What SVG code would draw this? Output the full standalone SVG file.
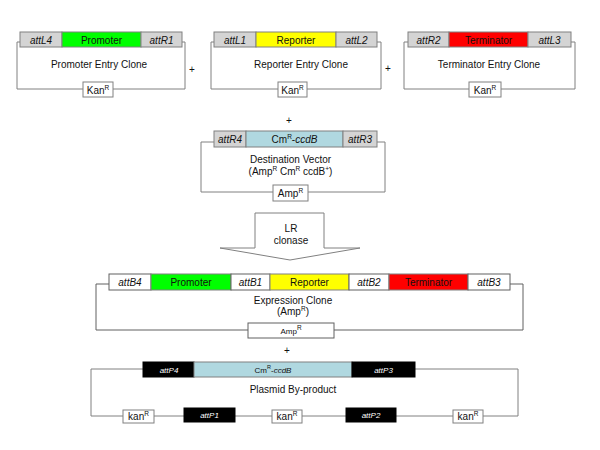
<svg xmlns="http://www.w3.org/2000/svg" width="600" height="450" viewBox="0 0 600 450">
<style>
text{font-family:"Liberation Sans",Arial,sans-serif;font-size:10px;fill:#111;text-anchor:middle}
.i{font-style:italic}
.s{font-size:8px}
.sup{font-size:6.5px}
.w{fill:#fff}
.ln{fill:none;stroke:#808080;stroke-width:1}
.ln2{fill:none;stroke:#606060;stroke-width:1}
.g{fill:#d4d4d4;stroke:#808080;stroke-width:1}
.gr{fill:#00ff00;stroke:#808080;stroke-width:1}
.ye{fill:#ffff00;stroke:#808080;stroke-width:1}
.rd{fill:#ff0000;stroke:#808080;stroke-width:1}
.bl{fill:#b0d8e0;stroke:#808080;stroke-width:1}
.wb{fill:#fff;stroke:#808080;stroke-width:1}
.wb2{fill:#fff;stroke:#606060;stroke-width:1}
.bk{fill:#000;stroke:#000;stroke-width:1}
</style>

<g id="connectors">
  <path class="ln" d="M20,42 H17 V89 H83 M113,89 H185 V42 H182"/>
  <path class="ln" d="M214,42 H211 V89 H278 M307,89 H381 V42 H377"/>
  <path class="ln" d="M408,42 H404 V89 H469 M501,89 H575 V42 H571"/>
  <path class="ln" d="M214,142 H201 V192 H273 M308,192 H385 V142 H377"/>
  <path class="ln2" d="M109,284 H96 V330 H248 M334,330 H523 V284 H510"/>
  <path class="ln" d="M143,369 H91 V416 H123 M154,416 H184 M235,416 H272 M302,416 H346 M396,416 H453 M483,416 H518 V369 H415"/>
</g>

<g id="promoter-entry-clone">
  <rect class="g" x="20" y="32" width="42" height="15"/>
  <rect class="gr" x="62" y="32" width="79" height="15"/>
  <rect class="g" x="141" y="32" width="41" height="15"/>
  <text class="i" x="41" y="43.5">attL4</text>
  <text x="101.5" y="43.5">Promoter</text>
  <text class="i" x="161.5" y="43.5">attR1</text>
  <text x="99" y="68">Promoter Entry Clone</text>
  <rect class="wb" x="83" y="82" width="30" height="15"/>
  <text x="98" y="93.5">Kan<tspan class="sup" dy="-4">R</tspan></text>
</g>
<text id="plus1" x="192" y="73">+</text>

<g id="reporter-entry-clone">
  <rect class="g" x="214" y="32" width="42" height="15"/>
  <rect class="ye" x="256" y="32" width="80" height="15"/>
  <rect class="g" x="336" y="32" width="41" height="15"/>
  <text class="i" x="235" y="43.5">attL1</text>
  <text x="296" y="43.5">Reporter</text>
  <text class="i" x="356.5" y="43.5">attL2</text>
  <text x="301" y="68">Reporter Entry Clone</text>
  <rect class="wb" x="278" y="82" width="29" height="15"/>
  <text x="292.5" y="93.5">Kan<tspan class="sup" dy="-4">R</tspan></text>
</g>
<text id="plus2" x="388" y="72">+</text>

<g id="terminator-entry-clone">
  <rect class="g" x="408" y="32" width="41" height="15"/>
  <rect class="rd" x="449" y="32" width="79" height="15"/>
  <rect class="g" x="528" y="32" width="43" height="15"/>
  <text class="i" x="428.5" y="43.5">attR2</text>
  <text x="488.5" y="43.5">Terminator</text>
  <text class="i" x="549.5" y="43.5">attL3</text>
  <text x="489" y="68">Terminator Entry Clone</text>
  <rect class="wb" x="469" y="82" width="32" height="15"/>
  <text x="485" y="93.5">Kan<tspan class="sup" dy="-4">R</tspan></text>
</g>
<text id="plus3" x="289" y="124">+</text>

<g id="destination-vector">
  <rect class="g" x="214" y="131" width="32" height="16"/>
  <rect class="bl" x="246" y="131" width="97" height="16"/>
  <rect class="g" x="343" y="131" width="34" height="16"/>
  <text class="i" x="230" y="142.5">attR4</text>
  <text x="294.5" y="142.5">Cm<tspan class="sup" dy="-4">R</tspan><tspan dy="4">-</tspan><tspan class="i">ccdB</tspan></text>
  <text class="i" x="360" y="142.5">attR3</text>
  <text x="290.5" y="163">Destination Vector</text>
  <text x="290.5" y="175">(Amp<tspan class="sup" dy="-4">R</tspan><tspan dy="4"> Cm</tspan><tspan class="sup" dy="-4">R</tspan><tspan dy="4"> ccdB</tspan><tspan class="sup" dy="-4">+</tspan><tspan dy="4">)</tspan></text>
  <rect class="wb" x="273" y="185" width="35" height="16"/>
  <text x="290.5" y="196.5">Amp<tspan class="sup" dy="-4">R</tspan></text>
</g>

<g id="lr-clonase">
  <polygon points="255,213 324,213 324,248 360,248 290,260 220,248 255,248" fill="#fff" stroke="#808080" stroke-width="1"/>
  <text x="291" y="231.5">LR</text>
  <text x="291" y="243.5">clonase</text>
</g>

<g id="expression-clone">
  <rect class="wb2" x="109" y="274" width="42" height="16"/>
  <rect class="gr" x="151" y="274" width="80" height="16" stroke="#606060"/>
  <rect class="wb2" x="231" y="274" width="39" height="16"/>
  <rect class="ye" x="270" y="274" width="79" height="16" stroke="#606060"/>
  <rect class="wb2" x="349" y="274" width="40" height="16"/>
  <rect class="rd" x="389" y="274" width="79" height="16" stroke="#606060"/>
  <rect class="wb2" x="468" y="274" width="42" height="16"/>
  <text class="i" x="130" y="285.5">attB4</text>
  <text x="191" y="285.5">Promoter</text>
  <text class="i" x="250.5" y="285.5">attB1</text>
  <text x="309.5" y="285.5">Reporter</text>
  <text class="i" x="369" y="285.5">attB2</text>
  <text x="428.5" y="285.5">Terminator</text>
  <text class="i" x="489" y="285.5">attB3</text>
  <text x="293" y="303.5">Expression Clone</text>
  <text x="293" y="315">(Amp<tspan class="sup" dy="-4">R</tspan><tspan dy="4">)</tspan></text>
  <rect class="wb2" x="248" y="323" width="86" height="15"/>
  <text class="s" x="291" y="333.5">Amp<tspan class="sup" dy="-3.5" font-size="5.5px">R</tspan></text>
</g>
<text id="plus4" x="287" y="354">+</text>

<g id="plasmid-by-product">
  <rect class="bk" x="143" y="362" width="51" height="15"/>
  <rect class="bl" x="194" y="362" width="158" height="15"/>
  <rect class="bk" x="352" y="362" width="63" height="15"/>
  <text class="s i w" x="169" y="372.5">attP4</text>
  <text class="s" x="273" y="372.5">Cm<tspan dy="-3.5" font-size="5.5px">R</tspan><tspan dy="3.5">-</tspan><tspan class="i">ccdB</tspan></text>
  <text class="s i w" x="383.5" y="372.5">attP3</text>
  <text x="293" y="392.5">Plasmid By-product</text>
  <rect class="wb" x="123" y="410" width="31" height="13"/>
  <text x="138.5" y="420">kan<tspan class="sup" dy="-4">R</tspan></text>
  <rect class="bk" x="184" y="408" width="51" height="14"/>
  <text class="s i w" x="209.5" y="418">attP1</text>
  <rect class="wb" x="272" y="410" width="30" height="13"/>
  <text x="287" y="420">kan<tspan class="sup" dy="-4">R</tspan></text>
  <rect class="bk" x="346" y="408" width="50" height="14"/>
  <text class="s i w" x="371" y="418">attP2</text>
  <rect class="wb" x="453" y="410" width="30" height="13"/>
  <text x="468" y="420">kan<tspan class="sup" dy="-4">R</tspan></text>
</g>
</svg>
